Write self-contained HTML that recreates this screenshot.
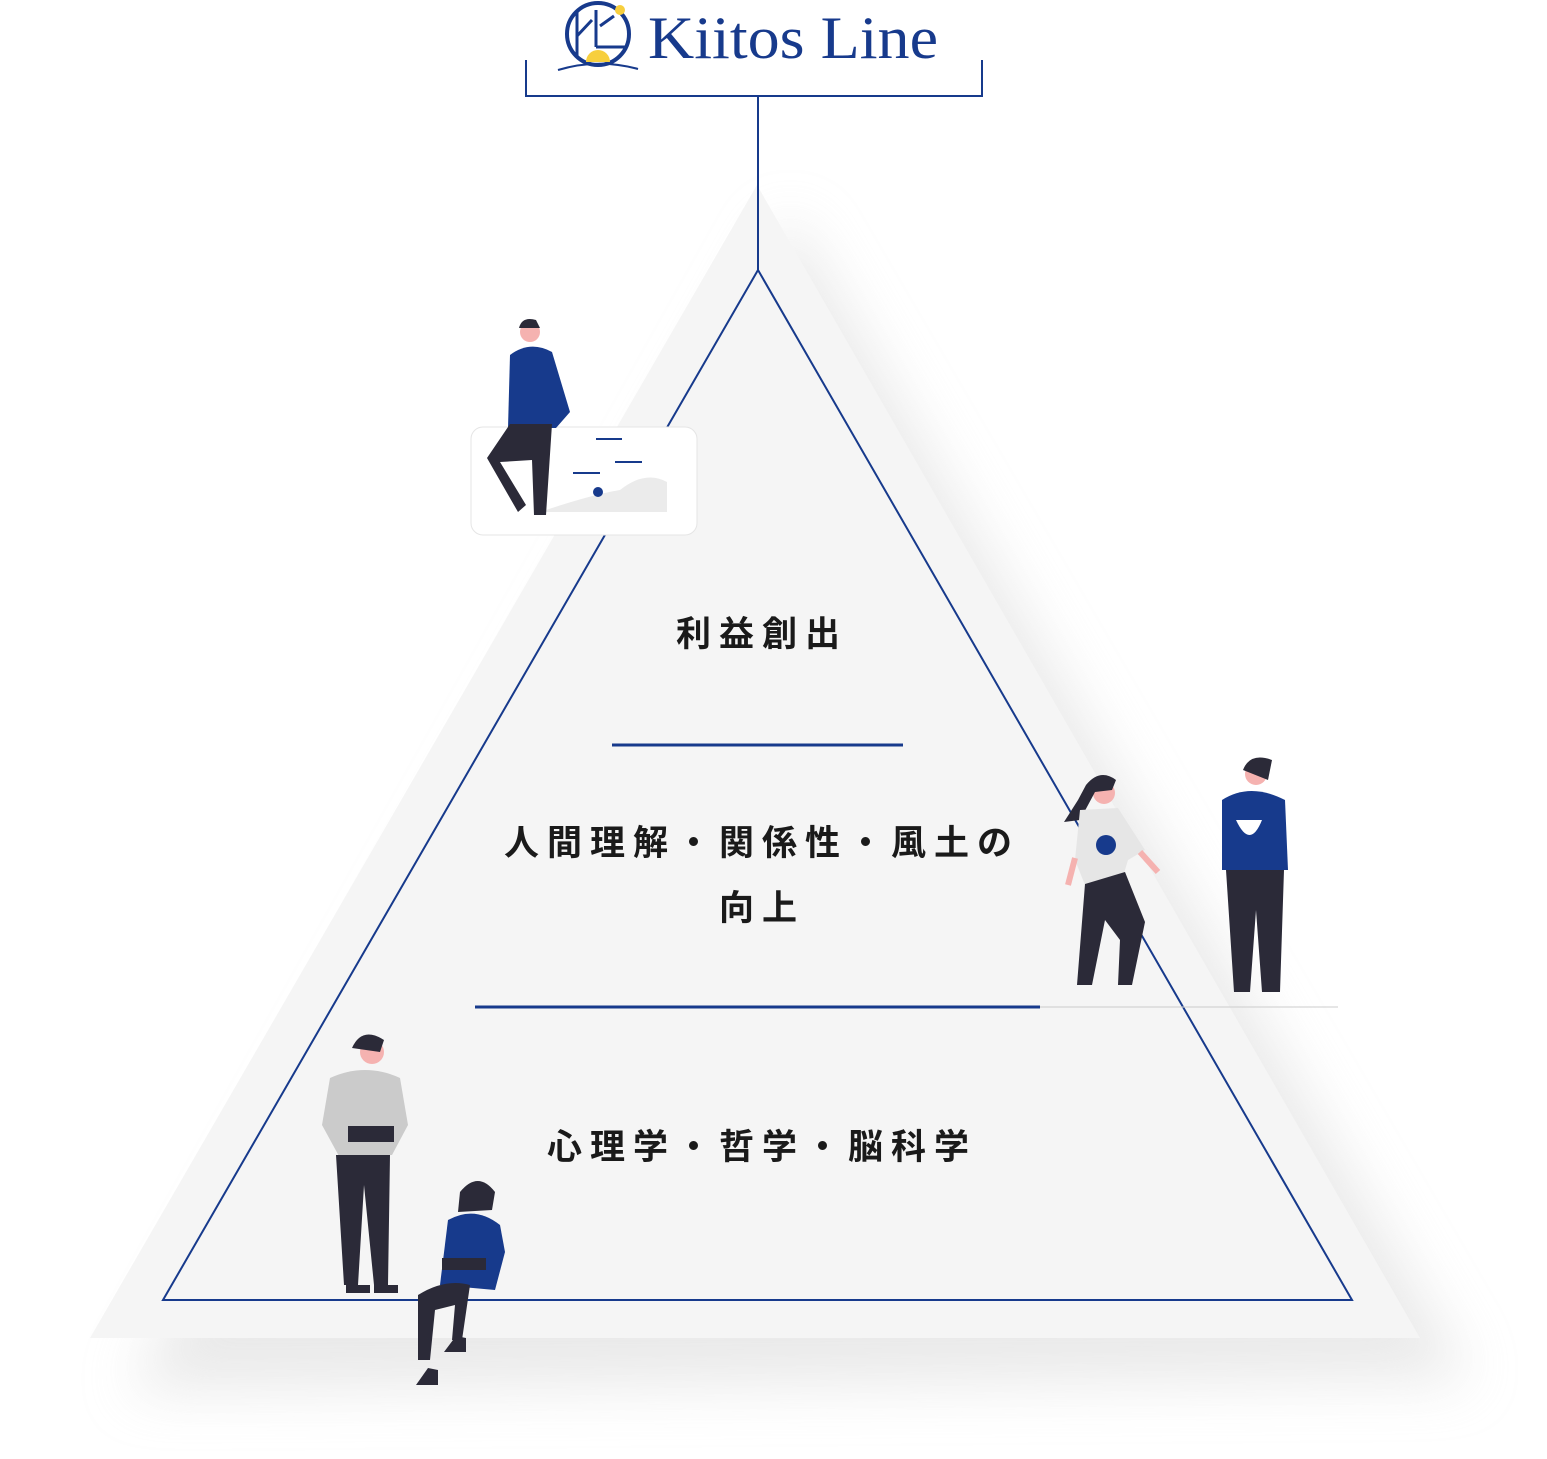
<!DOCTYPE html>
<html><head><meta charset="utf-8"><style>
html,body{margin:0;padding:0;background:#fff;width:1547px;height:1459px;overflow:hidden}
svg{display:block}
.jp{font-family:"Liberation Sans","Noto Sans CJK JP",sans-serif;font-weight:700;fill:#1a1a1a;letter-spacing:8px}
</style></head><body>
<svg width="1547" height="1459" viewBox="0 0 1547 1459" xmlns="http://www.w3.org/2000/svg">
<defs>
<filter id="sh" x="-20%" y="-20%" width="140%" height="140%"><feGaussianBlur stdDeviation="28"/></filter>
</defs>
<polygon points="790,215 1470,1380 130,1390" fill="#dcdcdc" filter="url(#sh)" opacity="0.6"/>
<polygon points="757,185 1420,1338 90,1338" fill="#f5f5f5"/>
<!-- logo -->
<circle cx="598" cy="34" r="31" fill="none" stroke="#173a8c" stroke-width="4"/>
<line x1="577" y1="10" x2="577" y2="58" stroke="#173a8c" stroke-width="3"/>
<line x1="577" y1="36" x2="592" y2="20" stroke="#173a8c" stroke-width="3"/>
<line x1="596" y1="10" x2="596" y2="47" stroke="#173a8c" stroke-width="3"/>
<line x1="596" y1="47" x2="627" y2="47" stroke="#173a8c" stroke-width="3"/>
<line x1="600" y1="26" x2="614" y2="16" stroke="#173a8c" stroke-width="3"/>
<circle cx="620" cy="10" r="5" fill="#f7cf3e"/>
<path d="M586 62 A12 12 0 0 1 610 62 Z" fill="#f7cf3e"/>
<path d="M558 70 Q598 58 638 69" fill="none" stroke="#173a8c" stroke-width="2"/>
<text x="648" y="58" font-family="Liberation Serif,serif" font-size="60" fill="#173a8c" textLength="290" lengthAdjust="spacingAndGlyphs">Kiitos Line</text>
<polyline points="526,60 526,96 982,96 982,60" fill="none" stroke="#173a8c" stroke-width="2"/>
<line x1="758" y1="96" x2="758" y2="270" stroke="#173a8c" stroke-width="2"/>
<polygon points="758,270 1352,1300 163,1300" fill="none" stroke="#173a8c" stroke-width="2"/>
<line x1="612" y1="745" x2="903" y2="745" stroke="#173a8c" stroke-width="3"/>
<line x1="475" y1="1007" x2="1040" y2="1007" stroke="#173a8c" stroke-width="3"/>
<text x="762" y="646" text-anchor="middle" class="jp" font-size="35">利益創出</text>
<text x="762" y="855" text-anchor="middle" class="jp" font-size="35">人間理解・関係性・風土の</text>
<text x="762" y="920" text-anchor="middle" class="jp" font-size="35">向上</text>
<text x="762" y="1159" text-anchor="middle" class="jp" font-size="35">心理学・哲学・脳科学</text>
<rect x="471" y="427" width="226" height="108" rx="12" fill="#fff" stroke="#e5e5e5"/>
<path d="M540 512 Q590 495 620 490 Q645 470 667 482 L667 512 Z" fill="#ebebeb"/>
<line x1="596" y1="439" x2="622" y2="439" stroke="#173a8c" stroke-width="2"/>
<line x1="573" y1="473" x2="600" y2="473" stroke="#173a8c" stroke-width="2"/>
<line x1="615" y1="462" x2="642" y2="462" stroke="#173a8c" stroke-width="2"/>
<circle cx="598" cy="492" r="5" fill="#173a8c"/>
<circle cx="530" cy="332" r="10" fill="#f5b2b0"/>
<path d="M519 328 Q522 316 536 320 L540 328 Z" fill="#2b2a38"/>
<path d="M510 355 Q530 340 552 352 L570 412 L556 428 L508 428 Z" fill="#173a8c"/>
<path d="M510 424 L552 424 L546 515 L534 515 L532 460 L500 462 L526 505 L518 512 L487 458 Z" fill="#2b2a38"/>
<circle cx="1104" cy="793" r="11" fill="#f5b2b0"/>
<path d="M1086 785 Q1100 768 1116 780 L1112 790 L1095 792 L1080 820 L1064 822 L1078 800 Z" fill="#2b2a38"/>
<path d="M1080 810 L1118 808 L1145 850 L1128 860 L1122 880 L1085 885 L1075 860 Z" fill="#e6e6e6"/>
<circle cx="1106" cy="845" r="10" fill="#173a8c"/>
<path d="M1085 884 L1125 872 L1145 922 L1132 985 L1118 985 L1120 940 L1105 920 L1092 985 L1077 985 Z" fill="#2b2a38"/>
<line x1="1075" y1="858" x2="1068" y2="885" stroke="#f5b2b0" stroke-width="6"/>
<line x1="1140" y1="852" x2="1158" y2="872" stroke="#f5b2b0" stroke-width="6"/>
<circle cx="1256" cy="774" r="11" fill="#f5b2b0"/>
<path d="M1243 770 Q1250 752 1272 760 L1268 780 Z" fill="#2b2a38"/>
<path d="M1222 800 Q1250 782 1285 800 L1288 870 L1222 870 Z" fill="#173a8c"/>
<path d="M1236 820 Q1250 850 1262 820 Z" fill="#fff"/>
<path d="M1226 870 L1284 870 L1280 992 L1262 992 L1256 910 L1250 992 L1234 992 Z" fill="#2b2a38"/>
<line x1="1040" y1="1007" x2="1338" y2="1007" stroke="#ccc" stroke-width="1"/>
<circle cx="372" cy="1052" r="12" fill="#f5b2b0"/>
<path d="M352 1048 Q362 1026 384 1040 L380 1052 Z" fill="#2b2a38"/>
<path d="M330 1078 Q365 1062 400 1078 L408 1125 L392 1155 L340 1158 L322 1125 Z" fill="#cbcbcb"/>
<rect x="348" y="1126" width="46" height="16" fill="#2b2a38"/>
<path d="M336 1155 L390 1155 L388 1285 L374 1285 L364 1185 L358 1285 L344 1285 Z" fill="#2b2a38"/>
<rect x="346" y="1285" width="24" height="8" fill="#2b2a38"/><rect x="374" y="1285" width="24" height="8" fill="#2b2a38"/>
<circle cx="478" cy="1196" r="11" fill="#f5b2b0"/>
<path d="M460 1192 Q478 1170 495 1192 L492 1210 L458 1212 Z" fill="#2b2a38"/>
<path d="M448 1220 Q475 1205 500 1225 L505 1252 L495 1290 L440 1285 Z" fill="#173a8c"/>
<rect x="442" y="1258" width="44" height="12" fill="#2b2a38"/>
<path d="M418 1295 Q445 1278 470 1285 L462 1340 L452 1340 L455 1305 L435 1310 L430 1360 L418 1360 Z" fill="#2b2a38"/>
<path d="M416 1385 L428 1368 L438 1370 L438 1385 Z" fill="#2b2a38"/>
<path d="M444 1352 L456 1336 L466 1338 L466 1352 Z" fill="#2b2a38"/>
</svg>
</body></html>
